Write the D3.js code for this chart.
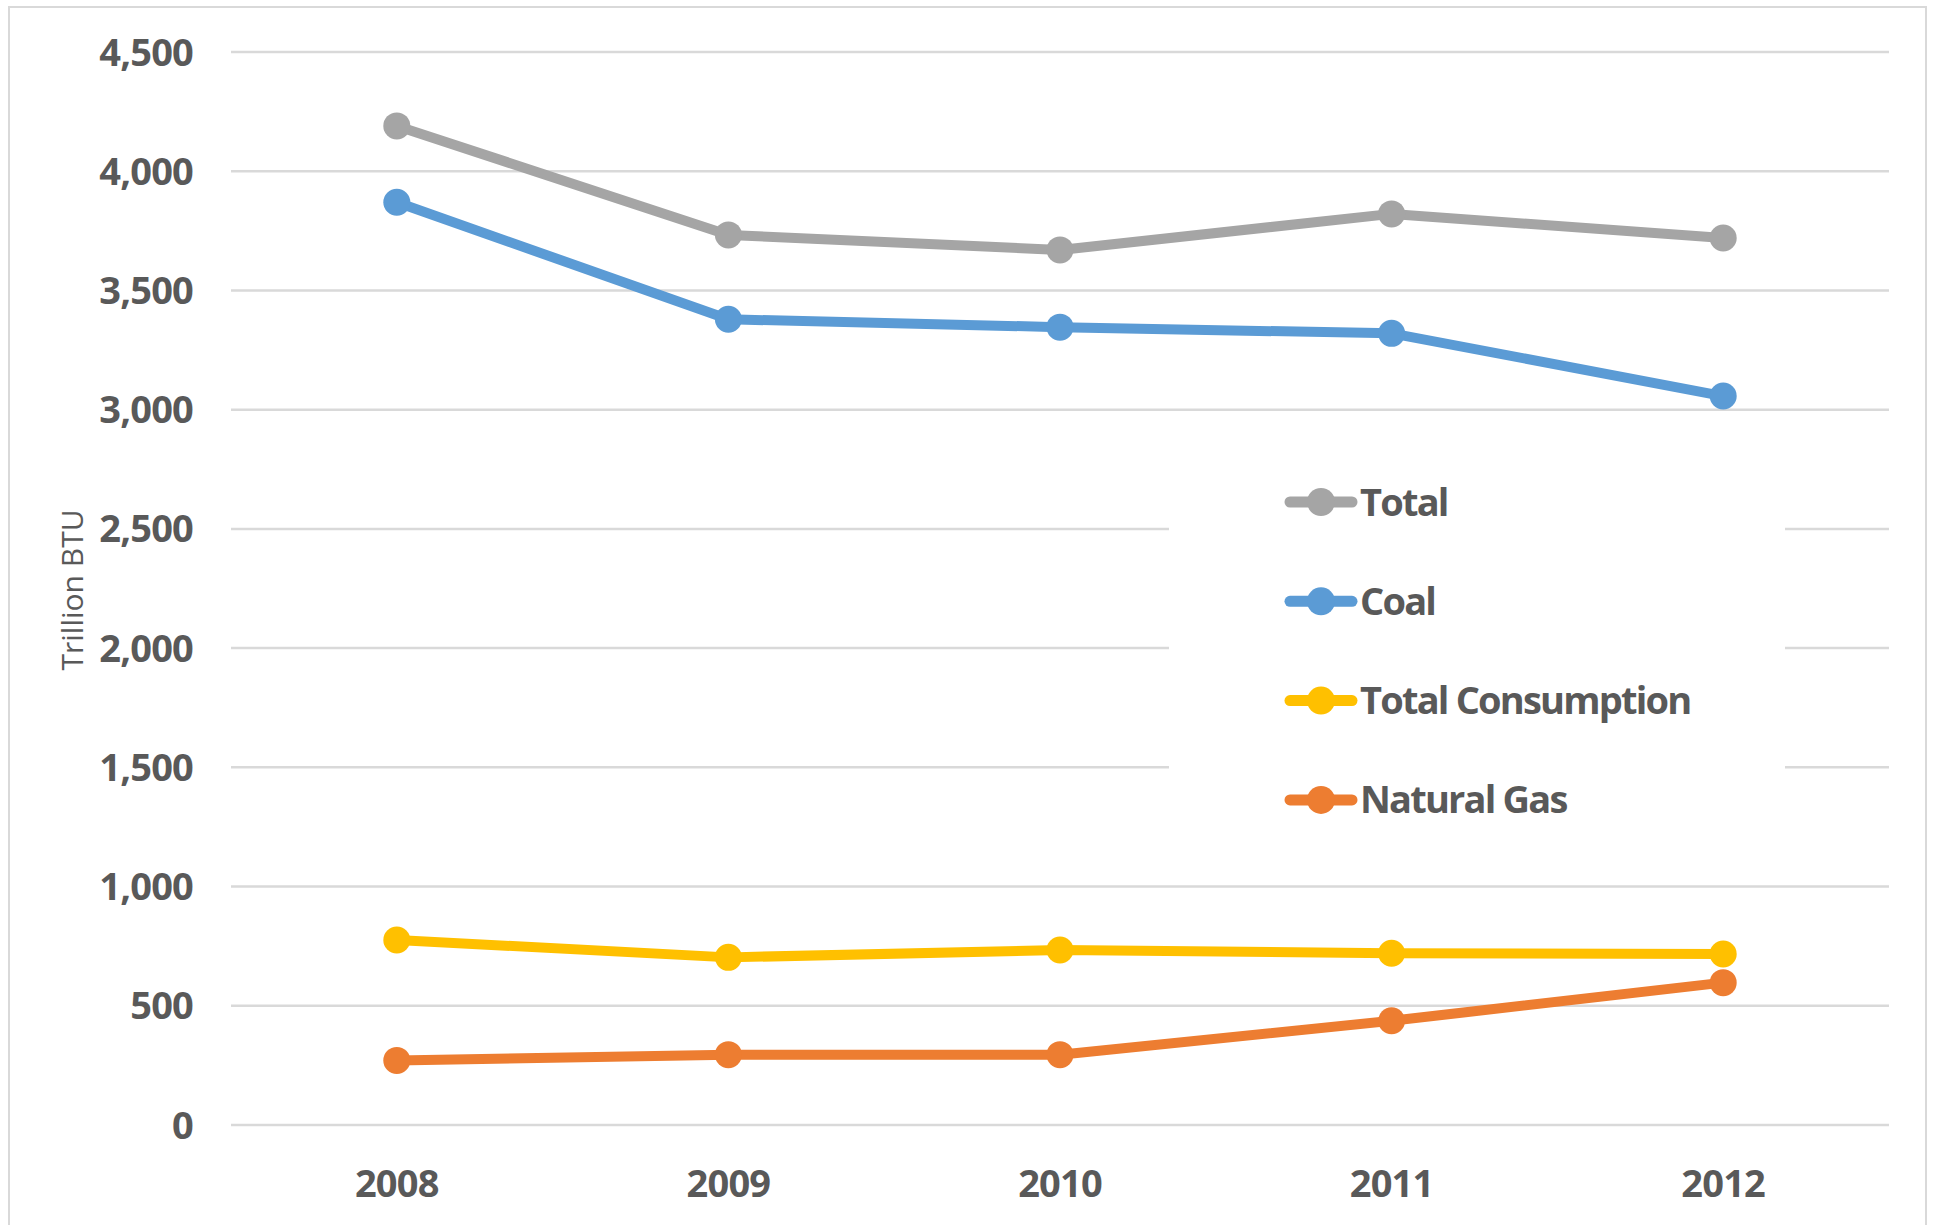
<!DOCTYPE html>
<html>
<head>
<meta charset="utf-8">
<script src="https://cdn.jsdelivr.net/npm/d3@7"></script>
<style>
  html, body { margin: 0; padding: 0; background: #fff; }
  svg text { font-family: "Open Sans", "Noto Sans", sans-serif; fill: #595959; }
</style>
</head>
<body>
<div id="chart"></div>
<script>
// data
const years = ["2008", "2009", "2010", "2011", "2012"];
const total = [4190, 3733, 3670, 3821, 3720];
const coal = [3870, 3379, 3346, 3320, 3057];
const totalConsumption = [776, 703, 734, 720, 717];
const naturalGas = [271, 295, 295, 437, 597];
const yTicks = [0, 500, 1000, 1500, 2000, 2500, 3000, 3500, 4000, 4500];

const seriesNames = ["Total", "Coal", "Total Consumption", "Natural Gas"];
const seriesColors = ["#a5a5a5", "#5b9bd5", "#ffc000", "#ed7d31"];
const seriesValues = [total, coal, totalConsumption, naturalGas];

const W = 1937, H = 1225;
const plot = { left: 231, right: 1889, top: 52, bottom: 1125 };

const svg = d3.select("#chart").append("svg")
  .attr("width", W)
  .attr("height", H);

// chart border
svg.append("rect")
  .attr("x", 9).attr("y", 7)
  .attr("width", 1917).attr("height", 1240)
  .attr("fill", "#fff")
  .attr("stroke", "#d9d9d9")
  .attr("stroke-width", 2);

let x = d3.scalePoint().domain(years).range([plot.left, plot.right]).padding(0.5);
let y = d3.scaleLinear().domain([0, 4500]).range([plot.bottom, plot.top]);

// gridlines
svg.append("g").selectAll("line")
  .data(yTicks)
  .enter().append("line")
  .attr("x1", plot.left).attr("x2", plot.right)
  .attr("y1", d => y(d)).attr("y2", d => y(d))
  .attr("stroke", "#d9d9d9")
  .attr("stroke-width", 2.5);

// y tick labels
const FS = 38;
svg.append("g").selectAll("text")
  .data(yTicks)
  .enter().append("text")
  .attr("x", 193)
  .attr("y", d => y(d) + FS * 0.357)
  .attr("text-anchor", "end")
  .attr("font-size", FS)
  .attr("font-weight", "bold")
  .attr("letter-spacing", -0.8)
  .text(d => d3.format(",")(d));

// x labels
svg.append("g").selectAll("text")
  .data(years)
  .enter().append("text")
  .attr("x", d => x(d))
  .attr("y", 1197)
  .attr("text-anchor", "middle")
  .attr("font-size", FS)
  .attr("font-weight", "bold")
  .attr("letter-spacing", -0.8)
  .text(d => d);

// axis title
svg.append("text")
  .attr("transform", "translate(83,590) rotate(-90)")
  .attr("text-anchor", "middle")
  .attr("font-size", 30)
  .text("Trillion BTU");

// legend box (covers gridlines)
svg.append("rect")
  .attr("x", 1169).attr("y", 452)
  .attr("width", 616).attr("height", 398)
  .attr("fill", "#fff");

// series
let line = d3.line()
  .x((d, i) => x(years[i]))
  .y(d => y(d));

seriesValues.forEach(function(vals, s) {
  let g = svg.append("g");
  g.append("path")
    .datum(vals)
    .attr("d", line)
    .attr("fill", "none")
    .attr("stroke", seriesColors[s])
    .attr("stroke-width", 10)
    .attr("stroke-linejoin", "round");
  g.selectAll("circle")
    .data(vals)
    .enter().append("circle")
    .attr("cx", (d, i) => x(years[i]))
    .attr("cy", d => y(d))
    .attr("r", 13.5)
    .attr("fill", seriesColors[s]);
});

// legend
let legend = svg.append("g").selectAll("g")
  .data(seriesNames)
  .enter().append("g")
  .attr("transform", (d, i) => "translate(0," + (502 + i * 99.3) + ")");

legend.append("line")
  .attr("x1", 1290).attr("x2", 1352)
  .attr("stroke", (d, i) => seriesColors[i])
  .attr("stroke-width", 11)
  .attr("stroke-linecap", "round");

legend.append("circle")
  .attr("cx", 1321)
  .attr("r", 14)
  .attr("fill", (d, i) => seriesColors[i]);

legend.append("text")
  .attr("x", 1360)
  .attr("y", FS * 0.357)
  .attr("font-size", FS)
  .attr("font-weight", "bold")
  .attr("letter-spacing", -1.8)
  .text(d => d);
</script>
</body>
</html>
